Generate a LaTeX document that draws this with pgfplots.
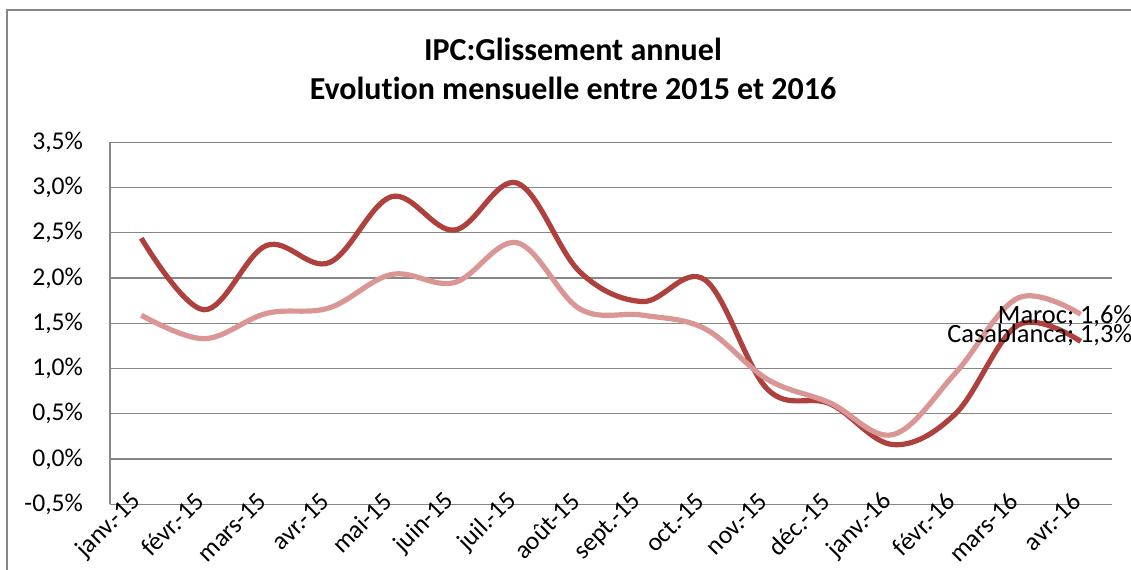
\documentclass[border=0pt]{standalone}
\usepackage{pgfplots}
\pgfplotsset{compat=1.18}
\usepackage{fontspec}
\setmainfont{Carlito}[Ligatures=NoCommon]
\definecolor{casa}{HTML}{AE403D}
\definecolor{maroc}{HTML}{D99694}
\definecolor{gridc}{HTML}{878787}
\begin{document}
\begin{tikzpicture}
\path[use as bounding box] (0pt,0pt) rectangle (565.5pt,284.5pt);
\draw[gridc, line width=0.75pt] (3.5pt,-10pt) -- (3.5pt,279.5pt) -- (580pt,279.5pt);
\node[font=\fontsize{16}{18}\selectfont\bfseries, anchor=base] at (286.5pt,254pt) {IPC:Glissement annuel};
\node[font=\fontsize{16}{18}\selectfont\bfseries, anchor=base] at (286.5pt,234.5pt) {Evolution mensuelle entre 2015 et 2016};
\begin{axis}[
  at={(55pt,32.35pt)}, anchor=south west,
  scale only axis, width=501pt, height=181pt,
  xmin=-0.5, xmax=15.5, ymin=-0.5, ymax=3.5,
  axis x line=bottom, axis y line=left,
  axis line style={gridc, line width=0.6pt, -},
  ymajorgrids, grid style={gridc, line width=0.6pt},
  major tick length=0pt,
  ytick={-0.5,0,0.5,1,1.5,2,2.5,3,3.5},
  yticklabels={{-0,5\%},{0,0\%},{0,5\%},{1,0\%},{1,5\%},{2,0\%},{2,5\%},{3,0\%},{3,5\%}},
  xtick={0,...,15},
  xticklabels={janv.-15,févr.-15,mars-15,avr.-15,mai-15,juin-15,juil.-15,août-15,sept.-15,oct.-15,nov.-15,déc.-15,janv.-16,févr.-16,mars-16,avr.-16},
  tick label style={font=\fontsize{12.8}{14}\selectfont},
  yticklabel style={xshift=-10pt},
  xticklabel style={rotate=45, anchor=east, inner sep=0pt, yshift=4pt, xshift=1pt},
  clip=false,
]
\addplot[casa, line width=2.6pt, smooth, tension=0.6] coordinates {
(0,2.44) (1,1.65) (2,2.36) (3,2.17) (4,2.90) (5,2.53) (6,3.05) (7,2.07)
(8,1.74) (9,1.98) (10,0.77) (11,0.61) (12,0.16) (13,0.50) (14,1.48) (15,1.30)};
\addplot[maroc, line width=2.6pt, smooth, tension=0.6] coordinates {
(0,1.59) (1,1.33) (2,1.61) (3,1.67) (4,2.04) (5,1.95) (6,2.39) (7,1.66)
(8,1.59) (9,1.44) (10,0.88) (11,0.62) (12,0.27) (13,0.95) (14,1.78) (15,1.60)};
\node[anchor=base east, font=\fontsize{13.2}{15}\selectfont, inner sep=0pt, xshift=26pt, yshift=-4.4pt] at (axis cs:15,1.60) {Maroc; 1,6\%};
\node[anchor=base east, font=\fontsize{13.2}{15}\selectfont, inner sep=0pt, xshift=26pt, yshift=-0.5pt] at (axis cs:15,1.30) {Casablanca; 1,3\%};
\end{axis}
\end{tikzpicture}
\end{document}
